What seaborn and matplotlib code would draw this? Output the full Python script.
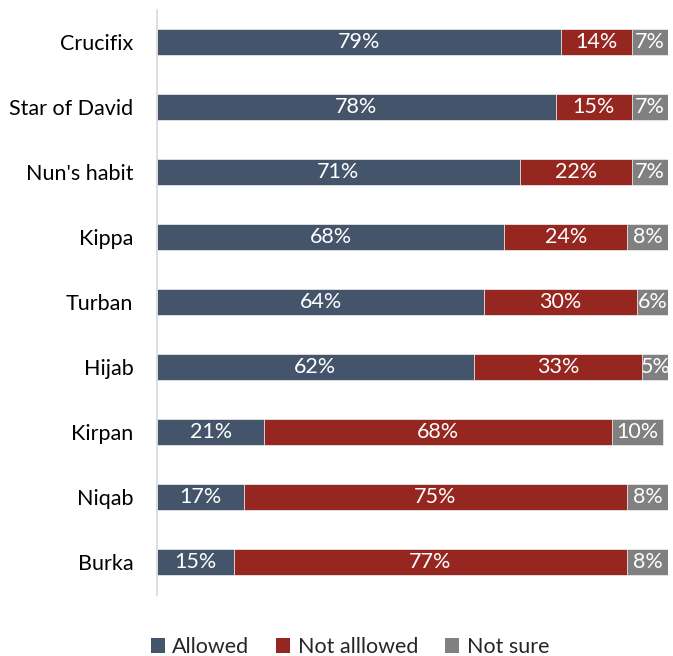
import matplotlib
matplotlib.use("Agg")
import matplotlib.pyplot as plt
from matplotlib.patches import Patch
import numpy as np
import pandas as pd
import seaborn as sns

# Survey: should these religious symbols be allowed? (percent of respondents)
symbols = ["Crucifix", "Star of David", "Nun's habit", "Kippa", "Turban",
           "Hijab", "Kirpan", "Niqab", "Burka"]
allowed = [79, 78, 71, 68, 64, 62, 21, 17, 15]
not_allowed = [14, 15, 22, 24, 30, 33, 68, 75, 77]
not_sure = [7, 7, 7, 8, 6, 5, 10, 8, 8]

series_names = ["Allowed", "Not alllowed", "Not sure"]
colors = ["#44546A", "#952720", "#808080"]

df = pd.DataFrame({"symbol": symbols, "allowed": allowed,
                   "not_allowed": not_allowed, "not_sure": not_sure})
df["cum1"] = df["allowed"]
df["cum2"] = df["allowed"] + df["not_allowed"]
df["cum3"] = df["cum2"] + df["not_sure"]

sns.set_theme(style="white")
plt.rcParams["font.family"] = ["Lato", "DejaVu Sans"]
FS = 15.5

fig = plt.figure(figsize=(6.73, 6.56), dpi=100)
ax = fig.add_axes([157 / 673, 1 - 594.5 / 656, (668 - 157) / 673, (594.5 - 9.5) / 656])

# Stacked bars: draw cumulative totals back to front
for col, color in zip(["cum3", "cum2", "cum1"], colors[::-1]):
    sns.barplot(data=df, x=col, y="symbol", orient="h", color=color,
                width=0.385, edgecolor="#e8e8e8", linewidth=0.6,
                saturation=1, ax=ax)

# Segment labels
for i, row in df.iterrows():
    left = 0
    for key in ["allowed", "not_allowed", "not_sure"]:
        v = row[key]
        ax.text(left + v / 2, i, f"{v}%", ha="center", va="center",
                color="white", fontsize=FS)
        left += v

ax.set_xlim(0, 100)
ax.set_ylim(8.5, -0.5)
ax.set_xlabel("")
ax.set_ylabel("")
ax.set_xticks([])
for side in ["top", "right", "bottom"]:
    ax.spines[side].set_visible(False)
ax.spines["left"].set_color("#d9d9d9")
ax.spines["left"].set_linewidth(1.2)
ax.tick_params(axis="y", length=0, pad=17, labelsize=FS, labelcolor="black")

handles = [Patch(facecolor=c, edgecolor="none") for c in colors]
fig.legend(handles, series_names, loc="center", bbox_to_anchor=(350 / 673, 9 / 656),
           ncol=3, frameon=False, fontsize=FS, handlelength=0.65, handleheight=0.65,
           handletextpad=0.35, columnspacing=1.25)

fig.savefig("out.png", dpi=100)
